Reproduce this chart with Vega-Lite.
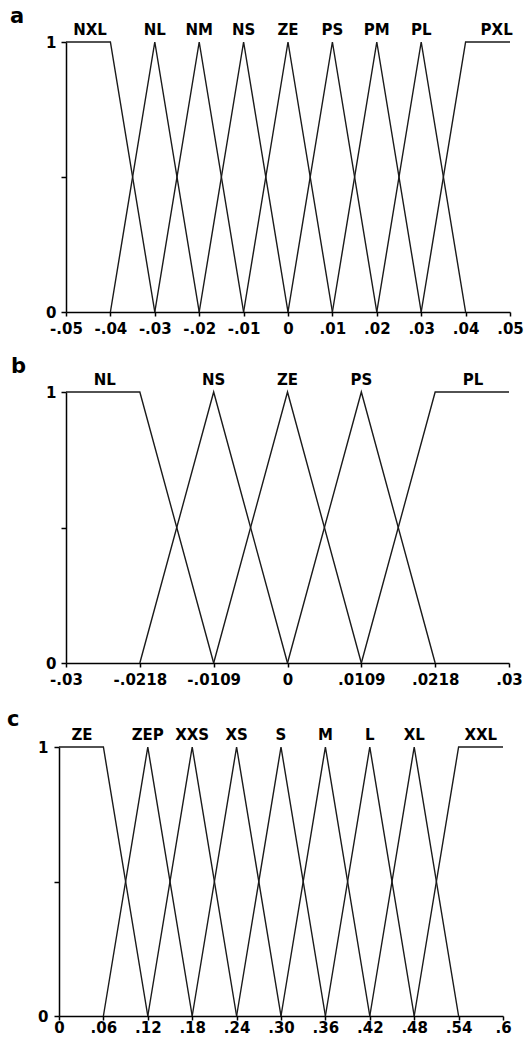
{
  "$schema": "https://vega.github.io/schema/vega-lite/v6.json",
  "padding": {"left": 7, "top": 6, "right": 5, "bottom": 0},
  "background": "white",
  "spacing": 20,
  "config": {
    "font": "DejaVu Sans",
    "view": {"stroke": null},
    "axis": {
      "grid": false,
      "domainColor": "black",
      "domainWidth": 1.5,
      "tickColor": "black",
      "tickWidth": 1.5,
      "labelFont": "DejaVu Sans",
      "labelFontSize": 15,
      "labelFontWeight": "bold",
      "labelColor": "black",
      "labelFlush": false,
      "title": null
    },
    "title": {"font": "DejaVu Sans", "fontSize": 21, "fontWeight": "bold", "anchor": "start", "frame": "group", "baseline": "alphabetic", "offset": -4, "color": "black"}
  },
  "datasets": {
    "aLines": [
      {"name": "NXL", "x": -0.05, "y": 1}, {"name": "NXL", "x": -0.04, "y": 1}, {"name": "NXL", "x": -0.03, "y": 0},
      {"name": "NL", "x": -0.04, "y": 0}, {"name": "NL", "x": -0.03, "y": 1}, {"name": "NL", "x": -0.02, "y": 0},
      {"name": "NM", "x": -0.03, "y": 0}, {"name": "NM", "x": -0.02, "y": 1}, {"name": "NM", "x": -0.01, "y": 0},
      {"name": "NS", "x": -0.02, "y": 0}, {"name": "NS", "x": -0.01, "y": 1}, {"name": "NS", "x": 0, "y": 0},
      {"name": "ZE", "x": -0.01, "y": 0}, {"name": "ZE", "x": 0, "y": 1}, {"name": "ZE", "x": 0.01, "y": 0},
      {"name": "PS", "x": 0, "y": 0}, {"name": "PS", "x": 0.01, "y": 1}, {"name": "PS", "x": 0.02, "y": 0},
      {"name": "PM", "x": 0.01, "y": 0}, {"name": "PM", "x": 0.02, "y": 1}, {"name": "PM", "x": 0.03, "y": 0},
      {"name": "PL", "x": 0.02, "y": 0}, {"name": "PL", "x": 0.03, "y": 1}, {"name": "PL", "x": 0.04, "y": 0},
      {"name": "PXL", "x": 0.03, "y": 0}, {"name": "PXL", "x": 0.04, "y": 1}, {"name": "PXL", "x": 0.05, "y": 1}
    ],
    "aLabels": [
      {"name": "NXL", "x": -0.0446}, {"name": "NL", "x": -0.03}, {"name": "NM", "x": -0.02}, {"name": "NS", "x": -0.01},
      {"name": "ZE", "x": 0}, {"name": "PS", "x": 0.01}, {"name": "PM", "x": 0.02}, {"name": "PL", "x": 0.03}, {"name": "PXL", "x": 0.047}
    ],
    "bLines": [
      {"name": "NL", "x": -0.03, "y": 1}, {"name": "NL", "x": -0.0218, "y": 1}, {"name": "NL", "x": -0.0109, "y": 0},
      {"name": "NS", "x": -0.0218, "y": 0}, {"name": "NS", "x": -0.0109, "y": 1}, {"name": "NS", "x": 0, "y": 0},
      {"name": "ZE", "x": -0.0109, "y": 0}, {"name": "ZE", "x": 0, "y": 1}, {"name": "ZE", "x": 0.0109, "y": 0},
      {"name": "PS", "x": 0, "y": 0}, {"name": "PS", "x": 0.0109, "y": 1}, {"name": "PS", "x": 0.0218, "y": 0},
      {"name": "PL", "x": 0.0109, "y": 0}, {"name": "PL", "x": 0.0218, "y": 1}, {"name": "PL", "x": 0.03, "y": 1}
    ],
    "bLabels": [
      {"name": "NL", "x": -0.0257}, {"name": "NS", "x": -0.0109}, {"name": "ZE", "x": 0}, {"name": "PS", "x": 0.0109}, {"name": "PL", "x": 0.026}
    ],
    "cLines": [
      {"name": "ZE", "x": 0, "y": 1}, {"name": "ZE", "x": 0.06, "y": 1}, {"name": "ZE", "x": 0.12, "y": 0},
      {"name": "ZEP", "x": 0.06, "y": 0}, {"name": "ZEP", "x": 0.12, "y": 1}, {"name": "ZEP", "x": 0.18, "y": 0},
      {"name": "XXS", "x": 0.12, "y": 0}, {"name": "XXS", "x": 0.18, "y": 1}, {"name": "XXS", "x": 0.24, "y": 0},
      {"name": "XS", "x": 0.18, "y": 0}, {"name": "XS", "x": 0.24, "y": 1}, {"name": "XS", "x": 0.3, "y": 0},
      {"name": "S", "x": 0.24, "y": 0}, {"name": "S", "x": 0.3, "y": 1}, {"name": "S", "x": 0.36, "y": 0},
      {"name": "M", "x": 0.3, "y": 0}, {"name": "M", "x": 0.36, "y": 1}, {"name": "M", "x": 0.42, "y": 0},
      {"name": "L", "x": 0.36, "y": 0}, {"name": "L", "x": 0.42, "y": 1}, {"name": "L", "x": 0.48, "y": 0},
      {"name": "XL", "x": 0.42, "y": 0}, {"name": "XL", "x": 0.48, "y": 1}, {"name": "XL", "x": 0.54, "y": 0},
      {"name": "XXL", "x": 0.48, "y": 0}, {"name": "XXL", "x": 0.54, "y": 1}, {"name": "XXL", "x": 0.6, "y": 1}
    ],
    "cLabels": [
      {"name": "ZE", "x": 0.031}, {"name": "ZEP", "x": 0.12}, {"name": "XXS", "x": 0.18}, {"name": "XS", "x": 0.24},
      {"name": "S", "x": 0.3}, {"name": "M", "x": 0.36}, {"name": "L", "x": 0.42}, {"name": "XL", "x": 0.48}, {"name": "XXL", "x": 0.57}
    ]
  },
  "vconcat": [
    {
      "title": {"text": "a", "dx": -56},
      "width": 444,
      "height": 270,
      "layer": [
        {
          "data": {"name": "aLines"},
          "mark": {"type": "line", "stroke": "#1a1a1a", "strokeWidth": 1.4},
          "encoding": {
            "x": {"field": "x", "type": "quantitative",
              "scale": {"domain": [-0.05, 0.05], "nice": false, "zero": false},
              "axis": {
                "values": [-0.05, -0.045, -0.04, -0.035, -0.03, -0.025, -0.02, -0.015, -0.01, -0.005, 0, 0.005, 0.01, 0.015, 0.02, 0.025, 0.03, 0.035, 0.04, 0.045, 0.05],
                "labelExpr": "indexof([-0.05,-0.04,-0.03,-0.02,-0.01,0,0.01,0.02,0.03,0.04,0.05], datum.value) < 0 ? '' : ['-.05','-.04','-.03','-.02','-.01','0','.01','.02','.03','.04','.05'][indexof([-0.05,-0.04,-0.03,-0.02,-0.01,0,0.01,0.02,0.03,0.04,0.05], datum.value)]",
                "tickSize": {"condition": {"test": "indexof([-0.05,-0.04,-0.03,-0.02,-0.01,0,0.01,0.02,0.03,0.04,0.05], datum.value) < 0", "value": -4}, "value": 4},
                "labelPadding": 5,
                "labelOverlap": false
              }},
            "y": {"field": "y", "type": "quantitative",
              "scale": {"domain": [0, 1], "nice": false},
              "axis": {"values": [0, 0.5, 1], "labelExpr": "datum.value == 0 ? '0' : datum.value == 1 ? '1' : ''", "tickSize": 5, "labelPadding": 5}},
            "detail": {"field": "name", "type": "nominal"}
          }
        },
        {
          "data": {"name": "aLabels"},
          "mark": {"type": "text", "fontSize": 15, "fontWeight": "bold", "baseline": "alphabetic", "dy": -7, "color": "black", "font": "DejaVu Sans"},
          "encoding": {
            "x": {"field": "x", "type": "quantitative"},
            "y": {"datum": 1},
            "text": {"field": "name", "type": "nominal"}
          }
        }
      ]
    },
    {
      "spacing": 22,
      "vconcat": [
        {
          "title": {"text": "b", "dx": -55},
          "width": 443,
          "height": 271,
          "layer": [
            {
              "data": {"name": "bLines"},
              "mark": {"type": "line", "stroke": "#1a1a1a", "strokeWidth": 1.4},
              "encoding": {
                "x": {"field": "x", "type": "quantitative",
                  "scale": {"domain": [-0.03, -0.0218, -0.0109, 0, 0.0109, 0.0218, 0.03], "range": [0, 73.833, 147.667, 221.5, 295.333, 369.167, 443], "nice": false, "zero": false},
                  "axis": {
                    "values": [-0.03, -0.0259, -0.0218, -0.01635, -0.0109, -0.00545, 0, 0.00545, 0.0109, 0.01635, 0.0218, 0.0259, 0.03],
                    "labelExpr": "indexof([-0.03,-0.0218,-0.0109,0,0.0109,0.0218,0.03], datum.value) < 0 ? '' : ['-.03','-.0218','-.0109','0','.0109','.0218','.03'][indexof([-0.03,-0.0218,-0.0109,0,0.0109,0.0218,0.03], datum.value)]",
                    "tickSize": {"condition": {"test": "indexof([-0.03,-0.0218,-0.0109,0,0.0109,0.0218,0.03], datum.value) < 0", "value": -4}, "value": 4},
                    "labelPadding": 5,
                    "labelOverlap": false
                  }},
                "y": {"field": "y", "type": "quantitative",
                  "scale": {"domain": [0, 1], "nice": false},
                  "axis": {"values": [0, 0.5, 1], "labelExpr": "datum.value == 0 ? '0' : datum.value == 1 ? '1' : ''", "tickSize": 5, "labelPadding": 5}},
                "detail": {"field": "name", "type": "nominal"}
              }
            },
            {
              "data": {"name": "bLabels"},
              "mark": {"type": "text", "fontSize": 15, "fontWeight": "bold", "baseline": "alphabetic", "dy": -7, "color": "black", "font": "DejaVu Sans"},
              "encoding": {
                "x": {"field": "x", "type": "quantitative"},
                "y": {"datum": 1},
                "text": {"field": "name", "type": "nominal"}
              }
            }
          ]
        },
        {
          "title": {"text": "c", "dx": -59, "offset": -2},
          "width": 444,
          "height": 269,
          "layer": [
            {
              "data": {"name": "cLines"},
              "mark": {"type": "line", "stroke": "#1a1a1a", "strokeWidth": 1.4},
              "encoding": {
                "x": {"field": "x", "type": "quantitative",
                  "scale": {"domain": [0, 0.6], "range": [-7, 437], "nice": false, "zero": false},
                  "axis": {
                    "values": [0, 0.03, 0.06, 0.09, 0.12, 0.15, 0.18, 0.21, 0.24, 0.27, 0.3, 0.33, 0.36, 0.39, 0.42, 0.45, 0.48, 0.51, 0.54, 0.57, 0.6],
                    "labelExpr": "indexof([0,0.06,0.12,0.18,0.24,0.3,0.36,0.42,0.48,0.54,0.6], datum.value) < 0 ? '' : ['0','.06','.12','.18','.24','.30','.36','.42','.48','.54','.6'][indexof([0,0.06,0.12,0.18,0.24,0.3,0.36,0.42,0.48,0.54,0.6], datum.value)]",
                    "tickSize": {"condition": {"test": "indexof([0,0.06,0.12,0.18,0.24,0.3,0.36,0.42,0.48,0.54,0.6], datum.value) < 0", "value": -4}, "value": 4},
                    "labelPadding": 0,
                    "labelOverlap": false
                  }},
                "y": {"field": "y", "type": "quantitative",
                  "scale": {"domain": [0, 1], "nice": false},
                  "axis": {"values": [0, 0.5, 1], "offset": 7, "labelExpr": "datum.value == 0 ? '0' : datum.value == 1 ? '1' : ''", "tickSize": 5, "labelPadding": 6}},
                "detail": {"field": "name", "type": "nominal"}
              }
            },
            {
              "data": {"name": "cLabels"},
              "mark": {"type": "text", "fontSize": 15, "fontWeight": "bold", "baseline": "alphabetic", "dy": -7, "color": "black", "font": "DejaVu Sans"},
              "encoding": {
                "x": {"field": "x", "type": "quantitative"},
                "y": {"datum": 1},
                "text": {"field": "name", "type": "nominal"}
              }
            }
          ]
        }
      ]
    }
  ]
}
